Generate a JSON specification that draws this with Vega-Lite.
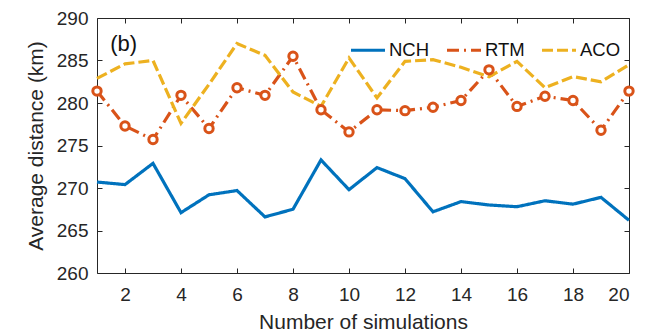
{
  "$schema": "https://vega.github.io/schema/vega-lite/v6.json",
  "width": 532,
  "height": 255,
  "autosize": {"type": "none"},
  "padding": {"left": 97, "top": 18, "right": 19, "bottom": 62},
  "background": "white",
  "config": {
    "view": {"stroke": null},
    "axis": {
      "grid": false,
      "domainColor": "#262626",
      "domainWidth": 1,
      "tickColor": "#262626",
      "tickSize": -5,
      "labelColor": "#262626",
      "titleColor": "#262626",
      "labelFont": "Liberation Sans",
      "titleFont": "Liberation Sans",
      "labelFontSize": 19,
      "titleFontSize": 21,
      "titleFontWeight": "normal"
    },
    "legend": {
      "labelFont": "Liberation Sans",
      "labelFontSize": 18.5,
      "labelColor": "#111111"
    }
  },
  "data": {
    "values": [
      {"n": 1, "series": "NCH", "v": 270.7}, {"n": 2, "series": "NCH", "v": 270.4}, {"n": 3, "series": "NCH", "v": 272.9}, {"n": 4, "series": "NCH", "v": 267.1}, {"n": 5, "series": "NCH", "v": 269.2},
      {"n": 6, "series": "NCH", "v": 269.7}, {"n": 7, "series": "NCH", "v": 266.6}, {"n": 8, "series": "NCH", "v": 267.5}, {"n": 9, "series": "NCH", "v": 273.3}, {"n": 10, "series": "NCH", "v": 269.8},
      {"n": 11, "series": "NCH", "v": 272.4}, {"n": 12, "series": "NCH", "v": 271.1}, {"n": 13, "series": "NCH", "v": 267.2}, {"n": 14, "series": "NCH", "v": 268.4}, {"n": 15, "series": "NCH", "v": 268.0},
      {"n": 16, "series": "NCH", "v": 267.8}, {"n": 17, "series": "NCH", "v": 268.5}, {"n": 18, "series": "NCH", "v": 268.1}, {"n": 19, "series": "NCH", "v": 268.9}, {"n": 20, "series": "NCH", "v": 266.2},
      {"n": 1, "series": "RTM", "v": 281.4}, {"n": 2, "series": "RTM", "v": 277.3}, {"n": 3, "series": "RTM", "v": 275.7}, {"n": 4, "series": "RTM", "v": 280.9}, {"n": 5, "series": "RTM", "v": 277.0},
      {"n": 6, "series": "RTM", "v": 281.8}, {"n": 7, "series": "RTM", "v": 280.9}, {"n": 8, "series": "RTM", "v": 285.5}, {"n": 9, "series": "RTM", "v": 279.2}, {"n": 10, "series": "RTM", "v": 276.6},
      {"n": 11, "series": "RTM", "v": 279.2}, {"n": 12, "series": "RTM", "v": 279.1}, {"n": 13, "series": "RTM", "v": 279.5}, {"n": 14, "series": "RTM", "v": 280.3}, {"n": 15, "series": "RTM", "v": 283.9},
      {"n": 16, "series": "RTM", "v": 279.6}, {"n": 17, "series": "RTM", "v": 280.8}, {"n": 18, "series": "RTM", "v": 280.3}, {"n": 19, "series": "RTM", "v": 276.8}, {"n": 20, "series": "RTM", "v": 281.4},
      {"n": 1, "series": "ACO", "v": 282.9}, {"n": 2, "series": "ACO", "v": 284.6}, {"n": 3, "series": "ACO", "v": 285.0}, {"n": 4, "series": "ACO", "v": 277.6}, {"n": 5, "series": "ACO", "v": 282.2},
      {"n": 6, "series": "ACO", "v": 287.0}, {"n": 7, "series": "ACO", "v": 285.6}, {"n": 8, "series": "ACO", "v": 281.3}, {"n": 9, "series": "ACO", "v": 279.6}, {"n": 10, "series": "ACO", "v": 285.3},
      {"n": 11, "series": "ACO", "v": 280.6}, {"n": 12, "series": "ACO", "v": 284.9}, {"n": 13, "series": "ACO", "v": 285.1}, {"n": 14, "series": "ACO", "v": 284.2}, {"n": 15, "series": "ACO", "v": 283.1},
      {"n": 16, "series": "ACO", "v": 284.9}, {"n": 17, "series": "ACO", "v": 281.8}, {"n": 18, "series": "ACO", "v": 283.1}, {"n": 19, "series": "ACO", "v": 282.5}, {"n": 20, "series": "ACO", "v": 284.5}
    ]
  },
  "resolve": {"axis": {"x": "independent", "y": "independent"}},
  "layer": [
    {
      "mark": {"type": "line", "strokeWidth": 3.2},
      "encoding": {
        "x": {"field": "n", "type": "quantitative", "scale": {"domain": [1, 20], "nice": false},
              "axis": {"title": "Number of simulations", "values": [2,4,6,8,10,12,14,16,18,20], "labelPadding": 17, "titlePadding": 7}},
        "y": {"field": "v", "type": "quantitative", "scale": {"domain": [260, 290], "nice": false, "zero": false},
              "axis": {"title": "Average distance (km)", "values": [260,265,270,275,280,285,290], "labelPadding": 14, "titlePadding": 10}},
        "color": {"field": "series", "type": "nominal",
                  "scale": {"domain": ["NCH", "RTM", "ACO"], "range": ["#0072BD", "#D95319", "#EDB120"]},
                  "legend": {"title": null, "orient": "none", "legendX": 252, "legendY": 13, "direction": "horizontal", "columns": 3, "symbolType": "stroke", "symbolSize": 1156, "symbolStrokeWidth": 3.2, "labelOffset": 2, "columnPadding": 10}},
        "strokeDash": {"field": "series", "type": "nominal",
                  "scale": {"domain": ["NCH", "RTM", "ACO"], "range": [[1, 0], [12, 5, 2, 5], [11, 4]]},
                  "legend": {"title": null, "orient": "none", "legendX": 252, "legendY": 13, "direction": "horizontal", "columns": 3, "symbolType": "stroke", "symbolSize": 1156, "symbolStrokeWidth": 3.2, "labelOffset": 2, "columnPadding": 10}}
      }
    },
    {
      "transform": [{"filter": "datum.series === 'RTM'"}],
      "mark": {"type": "point", "shape": "circle", "filled": false, "fill": "white", "fillOpacity": 1, "stroke": "#D95319", "strokeWidth": 3, "size": 70, "opacity": 1},
      "encoding": {
        "x": {"field": "n", "type": "quantitative", "axis": null},
        "y": {"field": "v", "type": "quantitative", "axis": null}
      }
    },
    {
      "mark": {"type": "point", "opacity": 0},
      "encoding": {
        "x": {"field": "n", "type": "quantitative", "axis": {"orient": "top", "labels": false, "title": null, "values": [2,4,6,8,10,12,14,16,18,20]}},
        "y": {"field": "v", "type": "quantitative", "axis": {"orient": "right", "labels": false, "title": null, "values": [260,265,270,275,280,285,290]}}
      }
    },
    {
      "data": {"values": [{"n": 1.47, "v": 286.9, "label": "(b)"}]},
      "mark": {"type": "text", "align": "left", "baseline": "middle", "font": "Liberation Sans", "fontSize": 22, "color": "#111111"},
      "encoding": {
        "x": {"field": "n", "type": "quantitative", "axis": null},
        "y": {"field": "v", "type": "quantitative", "axis": null},
        "text": {"field": "label"}
      }
    }
  ]
}
